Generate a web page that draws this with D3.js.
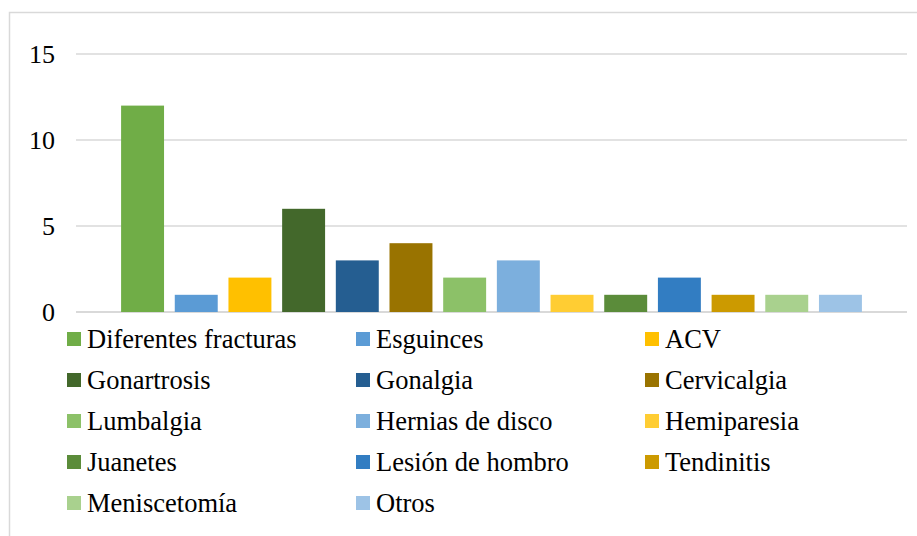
<!DOCTYPE html>
<html lang="es">
<head>
<meta charset="utf-8">
<title>Diagnósticos</title>
<script src="https://d3js.org/d3.v7.min.js"></script>
<style>
  body { margin: 0; background: #fff; }
  text { font-family: "Liberation Serif", "Times New Roman", serif; fill: #000; }
</style>
</head>
<body>
<div id="chart"></div>
<script>
// categories, values and colours
var categories = ["Diferentes fracturas", "Esguinces", "ACV", "Gonartrosis", "Gonalgia",
  "Cervicalgia", "Lumbalgia", "Hernias de disco", "Hemiparesia", "Juanetes",
  "Lesión de hombro", "Tendinitis", "Meniscetomía", "Otros"];
var values = [12, 1, 2, 6, 3, 4, 2, 3, 1, 1, 2, 1, 1, 1];
var colors = ["#70AD47", "#5B9BD5", "#FFC000", "#43682B", "#255E91", "#997300",
  "#8CC168", "#7CAFDD", "#FFCD33", "#5B8C3A", "#327DC2", "#CC9A00", "#A9D18E", "#9DC3E6"];
var yTicks = [0, 5, 10, 15];

var W = 917, H = 536;
var svg = d3.select("#chart").append("svg")
  .attr("width", W).attr("height", H);

// chart area border
svg.append("rect")
  .attr("x", 9.5).attr("y", 12.5)
  .attr("width", W + 20).attr("height", H + 20)
  .attr("fill", "none").attr("stroke", "#D9D9D9").attr("stroke-width", 1.5);

var plotLeft = 76, plotRight = 907, plotTop = 54, plotBottom = 312;

var y = d3.scaleLinear().domain([0, 15]).range([plotBottom, plotTop]);
var x = d3.scaleBand().domain(categories).range([plotLeft, plotRight])
  .paddingInner(0.2).paddingOuter(0.84);

// gridlines
svg.append("g").selectAll("line")
  .data(yTicks).enter().append("line")
    .attr("x1", plotLeft).attr("x2", plotRight)
    .attr("y1", function(d) { return y(d); })
    .attr("y2", function(d) { return y(d); })
    .attr("stroke", "#D9D9D9")
    .attr("stroke-width", function(d) { return d === 0 ? 2 : 1.5; });

// y axis labels
var yAxis = svg.append("g")
  .attr("transform", "translate(" + plotLeft + ",0)")
  .call(d3.axisLeft(y).tickValues(yTicks).tickSize(0).tickPadding(21));
yAxis.select(".domain").remove();
yAxis.selectAll("text")
  .style("font-family", "Liberation Serif, serif")
  .style("font-size", "26px")
  .attr("fill", "#000");

// bars
svg.append("g").selectAll("rect")
  .data(categories).enter().append("rect")
    .attr("x", function(d) { return x(d); })
    .attr("width", x.bandwidth())
    .attr("y", function(d, i) { return y(values[i]); })
    .attr("height", function(d, i) { return y(0) - y(values[i]); })
    .attr("fill", function(d, i) { return colors[i]; });

// legend, 3 columns
var legend = svg.append("g").selectAll("g")
  .data(categories).enter().append("g")
    .attr("transform", function(d, i) {
      return "translate(" + (67 + (i % 3) * 289) + "," + (339 + Math.floor(i / 3) * 41) + ")";
    });
legend.append("rect")
  .attr("x", 0).attr("y", -7)
  .attr("width", 14).attr("height", 14)
  .attr("fill", function(d, i) { return colors[i]; });
legend.append("text")
  .attr("x", 20).attr("y", 9)
  .style("font-size", "26.5px")
  .text(function(d) { return d; });
</script>
</body>
</html>
